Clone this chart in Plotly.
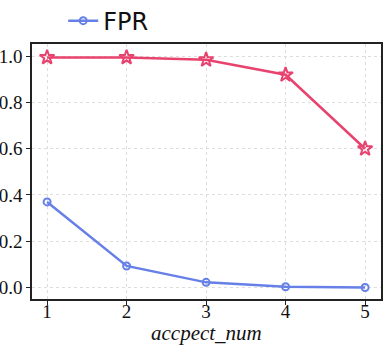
import plotly.graph_objects as go

accept_num = [1, 2, 3, 4, 5]
fpr = [0.37, 0.093, 0.022, 0.003, 0.0]
other = [0.995, 0.995, 0.985, 0.92, 0.60]
y_ticks = [0.0, 0.2, 0.4, 0.6, 0.8, 1.0]

serif = "Liberation Serif, DejaVu Serif, serif"

fig = go.Figure()

fig.add_trace(
    go.Scatter(
        x=accept_num,
        y=other,
        mode="lines+markers",
        name="other",
        showlegend=False,
        line=dict(color="#e8436e", width=2.5),
        marker=dict(symbol="star-open", size=11, color="#e8436e",
                    line=dict(width=2))
    )
)

fig.add_trace(
    go.Scatter(
        x=accept_num,
        y=fpr,
        mode="lines+markers",
        name="FPR",
        line=dict(color="#6680e8", width=2.5),
        marker=dict(symbol="circle-open", size=7, color="#6680e8",
                    line=dict(width=2))
    )
)

axis_style = dict(
    showline=True,
    linecolor="#222",
    linewidth=1.5,
    mirror=True,
    ticks="outside",
    ticklen=4,
    tickcolor="#222",
    showgrid=True,
    gridcolor="#dddddd",
    griddash="dot",
    gridwidth=1,
    zeroline=False,
    automargin=False,
    tickfont=dict(family=serif, size=19, color="#111"),
)

fig.update_xaxes(
    range=[0.81, 5.2],
    tickvals=accept_num,
    ticklabelstandoff=-10,
    **axis_style
)
fig.update_yaxes(
    range=[-0.05, 1.055],
    tickvals=y_ticks,
    tickformat=".1f",
    **axis_style
)

# x-axis title as annotation so it sits just under the tick labels
fig.add_annotation(
    text="<i>accpect_num</i>",
    xref="paper",
    yref="paper",
    x=0.5,
    y=-0.135,
    xanchor="center",
    yanchor="middle",
    showarrow=False,
    font=dict(family=serif, size=21, color="#111")
)

fig.update_layout(
    width=383,
    height=345,
    paper_bgcolor="white",
    plot_bgcolor="white",
    margin=dict(l=32, r=2, t=37, b=46),
    legend=dict(
        xref="container",
        yref="container",
        x=0.165,
        y=0.939,
        xanchor="left",
        yanchor="middle",
        orientation="h",
        font=dict(family="DejaVu Sans", size=24, color="#111"),
        bgcolor="rgba(0,0,0,0)"
    )
)

fig.write_html(
    "out.html",
    config={"displayModeBar": False},
    post_script="document.body.style.margin='0';"
)
